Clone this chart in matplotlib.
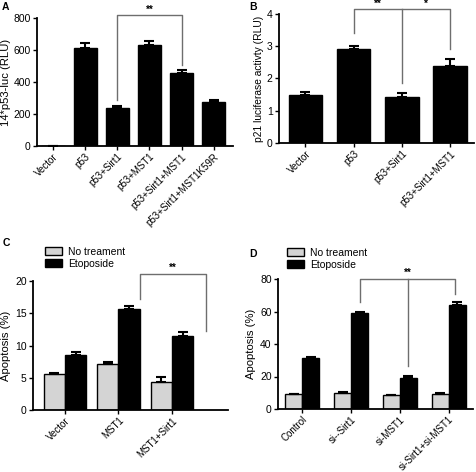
import matplotlib
matplotlib.use("Agg")
import matplotlib.pyplot as plt
import numpy as np

plt.rcParams['font.family'] = ['Liberation Sans', 'DejaVu Sans']

# Panel A
a_labels = ["Vector", "p53", "p53+Sirt1", "p53+MST1", "p53+Sirt1+MST1", "p53+Sirt1+MST1K59R"]
a_vals = [0, 615, 240, 630, 455, 278]
a_err = [0, 30, 8, 25, 20, 8]

# Panel B
b_labels = ["Vector", "p53", "p53+Sirt1", "p53+Sirt1+MST1"]
b_vals = [1.50, 2.90, 1.42, 2.40]
b_err = [0.08, 0.12, 0.14, 0.20]

# Panel C
c_labels = ["Vector", "MST1", "MST1+Sirt1"]
c_none = [5.6, 7.1, 4.4]
c_none_err = [0.1, 0.4, 0.7]
c_eto = [8.6, 15.6, 11.5]
c_eto_err = [0.4, 0.5, 0.6]

# Panel D
d_labels = ["Control", "si--Sirt1", "si-MST1", "si-Sirt1+si-MST1"]
d_none = [9.2, 10.0, 8.4, 9.4]
d_none_err = [0.3, 0.4, 0.2, 0.4]
d_eto = [31.5, 59.0, 19.3, 64.0]
d_eto_err = [0.6, 0.6, 1.2, 2.0]

legend_labels = ["No treament", "Etoposide"]
GRAY = "#d4d4d4"
BR = "#6e6e6e"

W, H = 476, 472
fig = plt.figure(figsize=(W / 100, H / 100), dpi=100)


def ax_at(l, t, r, b):
    return fig.add_axes([l / W, 1 - b / H, (r - l) / W, (b - t) / H])


def style(ax):
    for s in ["top", "right"]:
        ax.spines[s].set_visible(False)
    for s in ["left", "bottom"]:
        ax.spines[s].set_linewidth(1.3)
    ax.tick_params(axis="both", width=1.0, length=3, labelsize=7.5, pad=1.5)
    ax.tick_params(axis="x", pad=1.0)


def bars(ax, x, vals, err, width, color):
    ax.bar(x, vals, width=width, color=color, edgecolor="black", linewidth=1.0, zorder=2)
    ax.errorbar(x, vals, yerr=[np.zeros(len(vals)), err], fmt="none", ecolor="black",
                elinewidth=1.5, capsize=3.5, capthick=1.5, zorder=3)


def xlabels(ax, labels):
    ax.set_xticks(range(len(labels)))
    ax.set_xticklabels(labels, rotation=45, ha="right", rotation_mode="anchor", fontsize=7.0)


def bracket(ax, x1, x2, ytop, y1, y2, mids=(), lw=1.0):
    ax.plot([x1, x1, x2, x2], [y1, ytop, ytop, y2], color=BR, lw=lw, clip_on=False, zorder=4)
    for xm, ym in mids:
        ax.plot([xm, xm], [ytop, ym], color=BR, lw=lw, clip_on=False, zorder=4)


def star(ax, x, y, s):
    ax.text(x, y, s, ha="center", va="bottom", fontsize=7, fontweight="bold", clip_on=False)


# ---- A
axA = ax_at(37, 18, 233, 146)
style(axA)
xa = np.arange(len(a_labels))
bars(axA, xa, a_vals, a_err, 0.72, "black")
axA.set_xlim(-0.5, 5.6)
axA.set_ylim(0, 800)
axA.set_yticks([0, 200, 400, 600, 800])
xlabels(axA, a_labels)
axA.set_ylabel("14*p53-luc (RLU)", fontsize=8.1, labelpad=2)
bracket(axA, 2, 4, 816, 285, 505)
star(axA, 3, 822, "**")

# ---- B
axB = ax_at(279, 14, 474, 143)
style(axB)
xb = np.arange(len(b_labels))
bars(axB, xb, b_vals, b_err, 0.7, "black")
axB.set_xlim(-0.55, 3.5)
axB.set_ylim(0, 4)
axB.set_yticks([0, 1, 2, 3, 4])
xlabels(axB, b_labels)
axB.set_ylabel("p21 luciferase activty (RLU)", fontsize=7.4, labelpad=2)
bracket(axB, 1, 3, 4.14, 3.4, 2.93, mids=[(2, 1.87)])
star(axB, 1.5, 4.17, "**")
star(axB, 2.5, 4.17, "*")

# ---- C
axC = ax_at(33, 281, 228, 410)
style(axC)
xc = np.arange(len(c_labels))
w = 0.4
bars(axC, xc - w / 2, c_none, c_none_err, w, GRAY)
bars(axC, xc + w / 2, c_eto, c_eto_err, w, "black")
axC.set_xlim(-0.6, 3.05)
axC.set_ylim(0, 20)
axC.set_yticks([0, 5, 10, 15, 20])
xlabels(axC, c_labels)
axC.set_ylabel("Apoptosis (%)", fontsize=8.1, labelpad=3)
bracket(axC, 1.41, 2.64, 21.1, 17.2, 12.2)
star(axC, 2.02, 21.3, "**")
hC = [plt.Rectangle((0, 0), 1, 1, facecolor=GRAY, edgecolor="black", lw=1.0),
      plt.Rectangle((0, 0), 1, 1, facecolor="black", edgecolor="black", lw=1.0)]
fig.legend(hC, legend_labels, loc="upper left", bbox_to_anchor=(45 / W, 1 - 247 / H),
           frameon=False, fontsize=7.5, handlelength=1.6, handleheight=0.8,
           handletextpad=0.6, labelspacing=0.15, borderpad=0, borderaxespad=0)

# ---- D
axD = ax_at(278, 279, 473, 409)
style(axD)
xd = np.arange(len(d_labels))
w = 0.35
bars(axD, xd - w / 2, d_none, d_none_err, w, GRAY)
bars(axD, xd + w / 2, d_eto, d_eto_err, w, "black")
axD.set_xlim(-0.5, 3.5)
axD.set_ylim(0, 80)
axD.set_yticks([0, 20, 40, 60, 80])
xlabels(axD, d_labels)
axD.set_ylabel("Apoptosis (%)", fontsize=8.1, labelpad=3)
bracket(axD, 1.18, 3.14, 80, 65.6, 70.7, mids=[(2.17, 26.4)])
star(axD, 2.17, 80.8, "**")
hD = [plt.Rectangle((0, 0), 1, 1, facecolor=GRAY, edgecolor="black", lw=1.0),
      plt.Rectangle((0, 0), 1, 1, facecolor="black", edgecolor="black", lw=1.0)]
fig.legend(hD, legend_labels, loc="upper left", bbox_to_anchor=(287 / W, 1 - 248 / H),
           frameon=False, fontsize=7.5, handlelength=1.6, handleheight=0.8,
           handletextpad=0.6, labelspacing=0.15, borderpad=0, borderaxespad=0)

# panel letters
for s, x, y in [("A", 2, 2), ("B", 249, 2), ("C", 3, 238), ("D", 249, 249)]:
    fig.text(x / W, 1 - y / H, s, fontsize=7.5, fontweight="bold", va="top", ha="left")

fig.savefig("out.png", dpi=100, facecolor="white")
